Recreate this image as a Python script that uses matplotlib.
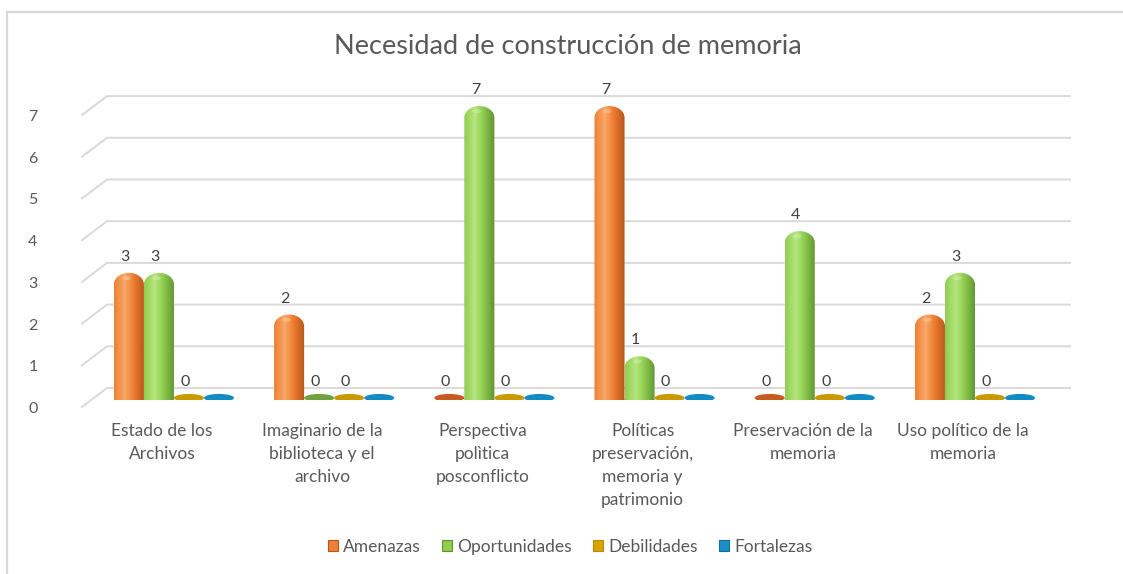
import numpy as np
import matplotlib
matplotlib.use('Agg')
import matplotlib.pyplot as plt
import matplotlib.transforms as mtransforms
from matplotlib.patches import Ellipse, Patch, PathPatch
from matplotlib.path import Path
from matplotlib.lines import Line2D

plt.rcParams['font.family'] = ['Lato', 'DejaVu Sans']

categories = ['Estado de los\nArchivos', 'Imaginario de la\nbiblioteca y el\narchivo',
              'Perspectiva\npolìtica\nposconflicto', 'Políticas\npreservación,\nmemoria y\npatrimonio',
              'Preservación de la\nmemoria', 'Uso político de la\nmemoria']
series = ['Amenazas', 'Oportunidades', 'Debilidades', 'Fortalezas']
amenazas = [3, 2, 0, 7, 0, 2]
oportunidades = [3, 0, 7, 1, 4, 3]
debilidades = [0, 0, 0, 0, 0, 0]
fortalezas = [0, 0, 0, 0, 0, 0]
values = [amenazas, oportunidades, debilidades, fortalezas]
show_labels = [True, True, True, False]
yticks = [0, 1, 2, 3, 4, 5, 6, 7]

# dark edge, body, highlight
palette = {
    'Amenazas': ('#b8561a', '#f07f33', '#f8a868'),
    'Oportunidades': ('#5f9232', '#8fce4f', '#b6e57e'),
    'Debilidades': ('#b88a00', '#d9a300', '#f0c040'),
    'Fortalezas': ('#0f6e9e', '#1a8fc6', '#4cb2e0'),
}
flat_col = {'Amenazas': '#c55a22', 'Oportunidades': '#6fa23e',
            'Debilidades': '#c99a00', 'Fortalezas': '#118bc4'}

W, H = 1123, 574
fig = plt.figure(figsize=(W / 100, H / 100), dpi=100)
ax = fig.add_axes([82 / W, 1 - 400 / H, 963 / W, 304 / H])
ax.set_xlim(-0.574, 5.437)
ax.set_ylim(0, 7.29)
ax.axis('off')

def px(dx, dy):
    return mtransforms.ScaledTranslation(dx / 100, dy / 100, fig.dpi_scale_trans)

# 3D style gridlines: diagonal from front edge to back wall, then across
yax = ax.get_yaxis_transform()
grid_c = '#d9d9d9'
inv = fig.transFigure.inverted()
for v in yticks:
    front = yax.transform((0, v)) + np.array([0, -7])
    back = yax.transform((0, v)) + np.array([25, 12])
    backr = yax.transform((1, v)) + np.array([25, 12])
    f, b, br = inv.transform([front, back, backr])
    fig.add_artist(Line2D([f[0], b[0], br[0]], [f[1], b[1], br[1]], color=grid_c, lw=1.4, zorder=0))
    ax.text(-0.051, v, str(v), transform=yax + px(0, -9), ha='center', va='center',
            fontsize=11.5, color='#595959')

w = 0.1875
cap = 0.28
n = 64
for j, name in enumerate(series):
    dark, mid, light = [np.array(matplotlib.colors.to_rgb(c)) for c in palette[name]]
    xs = np.linspace(0, 1, n)
    prof = np.interp(xs, [0, 0.35, 1], [0.6, 1.0, 0.0])
    grad = np.empty((1, n, 3))
    for k in range(n):
        t = prof[k]
        if t >= 0.6:
            s = (t - 0.6) / 0.4
            grad[0, k] = mid * (1 - s) + light * s
        else:
            s = t / 0.6
            grad[0, k] = dark * (1 - s) + mid * s
    for i, v in enumerate(values[j]):
        xc = i + (j - 1.5) * w
        x0, x1 = xc - w / 2, xc + w / 2
        if v > 0:
            top = v - cap + 0.05
            k = 0.5523
            verts = [(x0, 0), (x0, top),
                     (x0, top + cap * k), (xc - w / 2 * k, top + cap), (xc, top + cap),
                     (xc + w / 2 * k, top + cap), (x1, top + cap * k), (x1, top),
                     (x1, 0), (x0, 0)]
            codes = [Path.MOVETO, Path.LINETO, Path.CURVE4, Path.CURVE4, Path.CURVE4,
                     Path.CURVE4, Path.CURVE4, Path.CURVE4, Path.LINETO, Path.CLOSEPOLY]
            patch = PathPatch(Path(verts, codes), facecolor='none', edgecolor='none')
            ax.add_patch(patch)
            im = ax.imshow(grad, extent=(x0, x1, 0, top + cap), aspect='auto', zorder=2)
            im.set_clip_path(patch)
            ax.add_patch(Ellipse((xc - w * 0.08, top + cap * 0.55), w * 0.3, cap * 0.35,
                                 facecolor='white', alpha=0.25, edgecolor='none', zorder=3))
            ax.add_patch(Ellipse((xc, 0.0), w, 0.12, facecolor=dark, edgecolor='none', zorder=1.9))
            ylab = v + 0.05
        else:
            ax.add_patch(Ellipse((xc, 0.05), w, 0.19, facecolor=flat_col[name], edgecolor='none', zorder=2))
            ylab = 0.05
        if show_labels[j]:
            ax.annotate(str(v), (xc, ylab), xytext=(-4, 16), textcoords='offset pixels',
                        ha='center', va='center', fontsize=11.5, color='#404040')

ax.set_xlim(-0.574, 5.437)
ax.set_ylim(0, 7.29)

for i, c in enumerate(categories):
    ax.text(i - 0.075, 0, c, transform=ax.transData + px(0, -23), ha='center', va='top',
            fontsize=12.5, color='#595959', linespacing=1.55)

fig.text(568 / W, 1 - 47 / H, 'Necesidad de construcción de memoria', ha='center', va='center',
         fontsize=19.5, color='#595959')

handles = [Patch(facecolor=palette[s][1], edgecolor=palette[s][0], lw=0.8) for s in series]
fig.legend(handles, series, loc='center', bbox_to_anchor=(570 / W, 1 - 547 / H), ncol=4,
           frameon=False, fontsize=12.5, handlelength=0.6, handleheight=0.6, handletextpad=0.3,
           columnspacing=1.2, labelcolor='#595959')

# chart frame
fc = '#d9d9d9'
fig.add_artist(Line2D([7 / W, 7 / W], [0, 1 - 12 / H], color=fc, lw=1.6))
fig.add_artist(Line2D([7 / W, 1], [1 - 12 / H, 1 - 12 / H], color=fc, lw=1.6))

fig.savefig('out.png', dpi=100)
